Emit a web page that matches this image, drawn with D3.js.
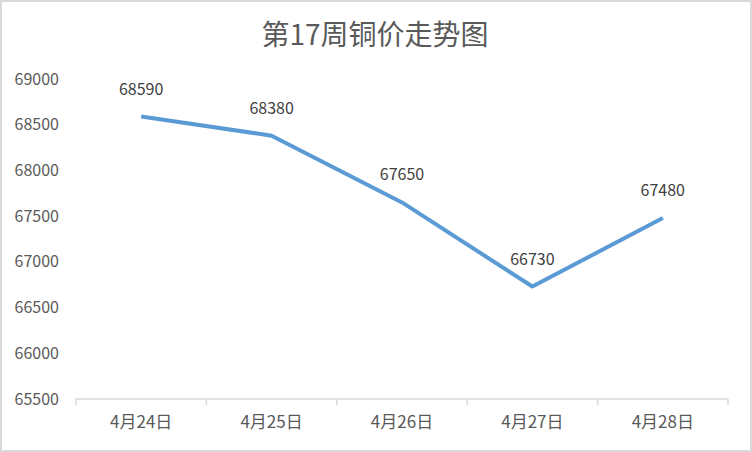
<!DOCTYPE html>
<html>
<head>
<meta charset="utf-8">
<script src="https://cdn.jsdelivr.net/npm/d3@7"></script>
<style>
  html, body { margin: 0; padding: 0; background: #fff; }
  svg { display: block; }
</style>
</head>
<body>
<div id="main"></div>
<script>
// data
const title = "第17周铜价走势图";
const categories = ["4月24日", "4月25日", "4月26日", "4月27日", "4月28日"];
const prices = [68590, 68380, 67650, 66730, 67480];
const yTicks = [65500, 66000, 66500, 67000, 67500, 68000, 68500, 69000];

const W = 752, H = 452;
const m = { top: 79, left: 76, right: 24, bottom: 53 };
const font = "'Noto Sans CJK SC', 'Noto Sans', sans-serif";

const svg = d3.select("#main").append("svg")
  .attr("width", W).attr("height", H);

// outer border
svg.append("rect")
  .attr("x", 1).attr("y", 1)
  .attr("width", W - 2).attr("height", H - 2)
  .attr("fill", "#fff").attr("stroke", "#d9d9d9").attr("stroke-width", 2);

svg.append("text")
  .attr("x", 375).attr("y", 45)
  .attr("text-anchor", "middle")
  .attr("font-family", font).attr("font-size", 28)
  .attr("fill", "#595959")
  .text(title);

const g = svg.append("g").attr("transform", `translate(${m.left},${m.top})`);
const w = W - m.left - m.right, h = H - m.top - m.bottom;

const x = d3.scaleBand().domain(categories).range([0, w]);
const y = d3.scaleLinear().domain([65500, 69000]).range([h, 0]);

// y labels (no axis line)
g.append("g")
  .attr("transform", "translate(-14,0)")
  .call(d3.axisLeft(y).tickValues(yTicks).tickSize(0).tickFormat(d3.format("d")))
  .call(s => s.select(".domain").remove())
  .selectAll("text")
  .attr("font-family", font).attr("font-size", 16).attr("fill", "#595959");

// x axis line with ticks between categories
const xa = g.append("g").attr("transform", `translate(0,${h})`);
xa.append("line")
  .attr("x1", 0).attr("x2", w)
  .attr("stroke", "#d9d9d9").attr("stroke-width", 1.5);
xa.selectAll("line.tk")
  .data(categories.map(c => x(c)).concat([w]))
  .join("line").attr("class", "tk")
  .attr("x1", d => d).attr("x2", d => d)
  .attr("y1", 0).attr("y2", 6)
  .attr("stroke", "#d9d9d9").attr("stroke-width", 1.5);
xa.selectAll("text")
  .data(categories)
  .join("text")
  .attr("x", d => x(d) + x.bandwidth() / 2)
  .attr("y", 29)
  .attr("text-anchor", "middle")
  .attr("font-family", font).attr("font-size", 17).attr("fill", "#595959")
  .text(d => d);

const line = d3.line()
  .x((d, i) => x(categories[i]) + x.bandwidth() / 2)
  .y(d => y(d));

g.append("path")
  .datum(prices)
  .attr("fill", "none")
  .attr("stroke", "#5b9bd5")
  .attr("stroke-width", 4)
  .attr("stroke-linejoin", "round")
  .attr("d", line);

g.selectAll("text.lbl")
  .data(prices)
  .join("text").attr("class", "lbl")
  .attr("x", (d, i) => x(categories[i]) + x.bandwidth() / 2)
  .attr("y", d => y(d) - 22)
  .attr("text-anchor", "middle")
  .attr("font-family", font).attr("font-size", 16).attr("fill", "#404040")
  .text(d => d);
</script>
</body>
</html>
